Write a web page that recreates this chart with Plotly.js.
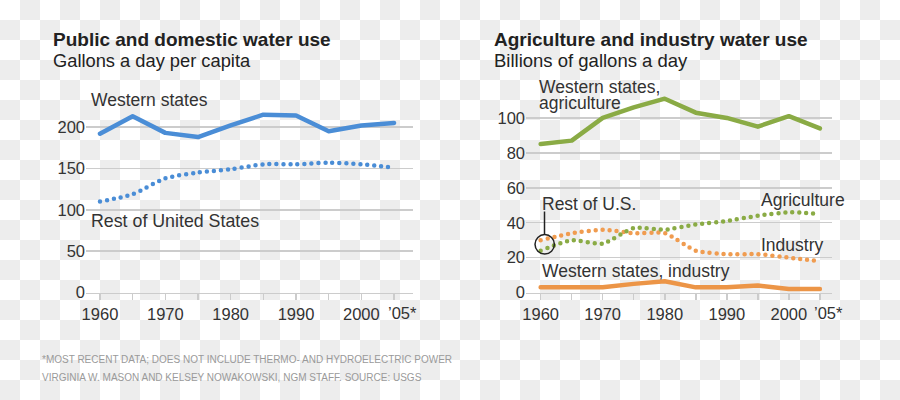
<!DOCTYPE html>
<html>
<head>
<meta charset="utf-8">
<script src="https://cdn.plot.ly/plotly-3.0.1.min.js"></script>
<style>
html,body{margin:0;padding:0;}
body{width:900px;height:400px;overflow:hidden;background-color:#fff;
background-image:conic-gradient(#ededed 25%, #fff 0 50%, #ededed 0 75%, #fff 0);
background-size:40px 40px;}
#chart{width:900px;height:400px;}
.js-line{stroke-linecap:round !important;stroke-linejoin:round !important;}
</style>
</head>
<body>
<div id="chart"></div>
<script>
// ---- data ----
const years = [1960,1965,1970,1975,1980,1985,1990,1995,2000,2005];
const westernPublic = [192,213,193,188,202,215,214,195,202,205];
const restPublic    = [110,119,138,145,149,155,155,157,155,151];
const westernAg     = [85,87,100,106,111,103,100,95,101,94];
const westernInd    = [3,3,3,5,6.5,3,3,4,2,2];
const restAg        = [24,30,28,37,36,39,41,44,46,45];
const restInd       = [30,34,36,34,34,24,22,22,20,18];
const xTickVals  = [1960,1965,1970,1975,1980,1985,1990,1995,2000,2005];
const xTickText  = ['1960','','1970','','1980','','1990','','2000',''];
const lastTickLabel = '\u201905*';
const leftYTicks  = [0,50,100,150,200];
const rightYTicks = [0,20,40,60,80,100];

const BLUE = '#4a8dd6', GREEN = '#8aab45', ORANGE = '#ec9547', ORANGE_D = '#f09c50';
const FONT = 'Liberation Sans, Arial, Helvetica, sans-serif';
const DOT = '0px,7px';

const traces = [
  {x: years, y: restPublic, xaxis:'x', yaxis:'y', mode:'lines',
   line:{color:BLUE, width:4.5, dash:DOT, shape:'spline', smoothing:0.8}},
  {x: years, y: westernPublic, xaxis:'x', yaxis:'y', mode:'lines',
   line:{color:BLUE, width:4.5}},
  {x: years, y: westernAg, xaxis:'x2', yaxis:'y2', mode:'lines',
   line:{color:GREEN, width:4.5}},
  {x: years, y: westernInd, xaxis:'x2', yaxis:'y2', mode:'lines',
   line:{color:ORANGE, width:4.5}},
  {x: years, y: restInd, xaxis:'x2', yaxis:'y2', mode:'lines',
   line:{color:ORANGE_D, width:4.5, dash:DOT, shape:'spline', smoothing:0.6}},
  {x: years, y: restAg, xaxis:'x2', yaxis:'y2', mode:'lines',
   line:{color:GREEN, width:4.5, dash:DOT, shape:'spline', smoothing:0.6}}
];

const px = v => v/900, py = v => 1 - v/400;
const yDom = [(400-292.6)/400, 0.8];

const xCommon = {
  showgrid:false, zeroline:false, showline:true, linecolor:'#cccccc', linewidth:1.5,
  ticks:'outside', ticklen:6, tickwidth:1.5, tickcolor:'#cccccc', tickangle:0,
  tickmode:'array', tickvals:xTickVals, ticktext:xTickText,
  tickfont:{family:FONT, size:16.5, color:'#333'}
};
const yCommon = {
  showgrid:true, gridcolor:'#cccccc', gridwidth:1.5, zeroline:false, showline:false,
  ticks:'', tickmode:'array', domain:yDom,
  tickfont:{family:FONT, size:16.5, color:'#333'}
};

function ann(text, x, y, size, opts){
  return Object.assign({text:text, x:px(x), y:py(y), xref:'paper', yref:'paper',
    xanchor:'left', yanchor:'middle', showarrow:false, align:'left',
    font:{family:FONT, size:size, color:'#333'}}, opts||{});
}

const lastYear = xTickVals[xTickVals.length-1];
const annotations = [
  ann('<b>Public and domestic water use</b>', 51, 39, 19, {font:{family:FONT,size:19,color:'#222'}}),
  ann('Gallons a day per capita', 51, 61, 18.3, {font:{family:FONT,size:18.3,color:'#222'}}),
  ann('<b>Agriculture and industry water use</b>', 491.5, 39, 19, {font:{family:FONT,size:19,color:'#222'}}),
  ann('Billions of gallons a day', 491.5, 61, 18.5, {font:{family:FONT,size:18.5,color:'#222'}}),
  ann('Western states', 89, 100.5, 17.5),
  ann('Rest of United States', 89, 220.5, 17.8),
  ann('Western states,', 537, 87, 17.5),
  ann('agriculture', 537, 103, 17.5),
  ann('Rest of U.S.', 540, 204, 17.5),
  ann('Agriculture', 759, 200, 17.5),
  ann('Industry', 759, 245, 17.5),
  ann('Western states, industry', 539.5, 271, 17.5),
  ann('*MOST RECENT DATA; DOES NOT INCLUDE THERMO- AND HYDROELECTRIC POWER', 40, 359.5, 10, {font:{family:FONT,size:10,color:'#9a9a9a'}}),
  ann('VIRGINIA W. MASON AND KELSEY NOWAKOWSKI, NGM STAFF. SOURCE: USGS', 40, 377.5, 10, {font:{family:FONT,size:10,color:'#9a9a9a'}}),
  {text:lastTickLabel, x:lastYear, xref:'x', y:py(312.5), yref:'paper', xanchor:'left', yanchor:'middle',
   xshift:-8, showarrow:false, font:{family:FONT, size:16.5, color:'#333'}},
  {text:lastTickLabel, x:lastYear, xref:'x2', y:py(312.5), yref:'paper', xanchor:'left', yanchor:'middle',
   xshift:-8, showarrow:false, font:{family:FONT, size:16.5, color:'#333'}}
];

const shapes = [
  {type:'circle', xref:'paper', yref:'paper', x0:px(535), x1:px(554.4), y0:py(254), y1:py(234.6),
   line:{color:'#222', width:1.5}},
  {type:'line', xref:'paper', yref:'paper', x0:px(544.5), x1:px(544.5), y0:py(211.5), y1:py(234.6),
   line:{color:'#222', width:1.5}}
];

const layout = {
  width:900, height:400, margin:{l:0,r:0,t:0,b:0},
  paper_bgcolor:'rgba(0,0,0,0)', plot_bgcolor:'rgba(0,0,0,0)',
  showlegend:false, font:{family:FONT},
  xaxis: Object.assign({}, xCommon, {domain:[px(86), px(413)], range:[1957.86, 2007.9], anchor:'y'}),
  yaxis: Object.assign({}, yCommon, {range:[0, 256.9], tickvals:leftYTicks, anchor:'x'}),
  xaxis2: Object.assign({}, xCommon, {domain:[px(526), px(832.3)], range:[1957.64, 2007.0], anchor:'y2'}),
  yaxis2: Object.assign({}, yCommon, {range:[0, 121.7], tickvals:rightYTicks, anchor:'x2'}),
  annotations: annotations,
  shapes: shapes
};

Plotly.newPlot('chart', traces, layout, {displayModeBar:false, staticPlot:true});
</script>
</body>
</html>
